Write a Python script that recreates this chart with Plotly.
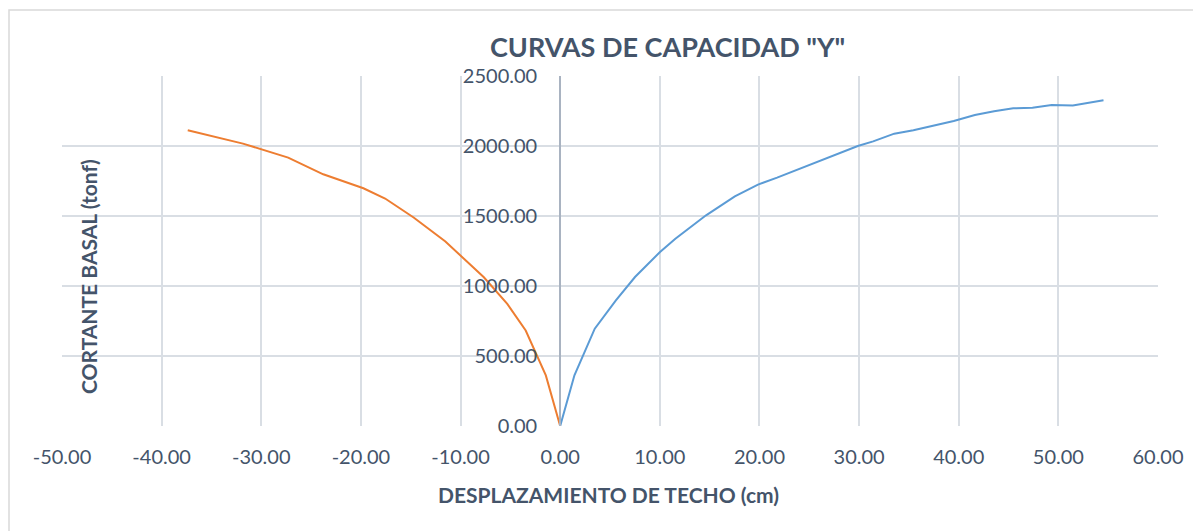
import plotly.graph_objects as go

# Data
pos_x = [0.0, 1.43, 3.47, 5.59, 7.51, 10.02, 11.56, 14.64, 17.53, 19.85, 21.77, 24.47,
         27.17, 29.87, 31.41, 33.53, 35.45, 37.57, 39.5, 41.62, 43.55, 45.47, 47.4,
         49.33, 51.45, 54.53]
pos_y = [0, 362, 695, 898, 1064, 1243, 1338, 1505, 1640, 1724, 1774, 1850,
         1926, 2000, 2033, 2088, 2112, 2148, 2179, 2221, 2248, 2269, 2274,
         2293, 2290, 2326]

neg_x = [0.0, -1.44, -3.46, -5.31, -7.66, -11.52, -14.71, -17.57, -19.75, -23.78,
         -27.3, -31.84, -37.38]
neg_y = [0, 361, 682, 872, 1062, 1318, 1489, 1625, 1698, 1798, 1917, 2017, 2112]

x_ticks = [-50, -40, -30, -20, -10, 0, 10, 20, 30, 40, 50, 60]
x_tick_labels = ["%.2f" % v for v in x_ticks]
y_ticks = [0, 500, 1000, 1500, 2000, 2500]
y_tick_labels = ["%.2f" % v for v in y_ticks]

title_text = 'CURVAS DE CAPACIDAD "Y"'
x_title = "DESPLAZAMIENTO DE TECHO (cm)"
y_title = "CORTANTE BASAL (tonf)"

TXT = "#44546A"
GRID = "#D9DEE4"
FONT = "Lato"

# page has an 8px body margin; figure coordinates = page coordinates - 8
OFF = 8
L, R, T, B = 62 - OFF, 1158 - OFF, 76 - OFF, 426 - OFF
W, H = 1193, 523
PW, PH = R - L, B - T


def px(xp):
    return (xp - OFF - L) / PW


def py(yp):
    return (B - (yp - OFF)) / PH


fig = go.Figure()
fig.add_trace(go.Scatter(x=pos_x, y=pos_y, mode="lines",
                         line=dict(color="#5B9BD5", width=2), showlegend=False))
fig.add_trace(go.Scatter(x=neg_x, y=neg_y, mode="lines",
                         line=dict(color="#ED7D31", width=2), showlegend=False))

fig.update_layout(
    width=W, height=H,
    margin=dict(l=L, r=W - R, t=T, b=H - B),
    paper_bgcolor="white", plot_bgcolor="white",
    font=dict(family=FONT, color=TXT, size=20),
    xaxis=dict(range=[-50, 60], tickvals=x_ticks, ticktext=x_tick_labels,
               showgrid=True, gridcolor=GRID, gridwidth=1.5,
               zeroline=False, showline=False, ticks="",
               ticklabelstandoff=17,
               tickfont=dict(family=FONT, size=20, color=TXT)),
    yaxis=dict(range=[0, 2500], tickvals=y_ticks, ticktext=y_tick_labels,
               showgrid=True, gridcolor=GRID, gridwidth=1.5,
               zeroline=False, anchor="free", position=50/110,
               showline=True, linecolor="#A9B3C1", linewidth=2,
               ticks="", ticklabelstandoff=18,
               tickfont=dict(family=FONT, size=20, color=TXT)),
    annotations=[
        dict(text="<b>" + title_text + "</b>", xref="paper", yref="paper",
             x=px(667), y=py(47), xanchor="center", yanchor="middle",
             showarrow=False, font=dict(family=FONT, size=27, color=TXT)),
        dict(text="<b>" + x_title + "</b>", xref="paper", yref="paper",
             x=px(608), y=py(494), xanchor="center", yanchor="middle",
             showarrow=False, font=dict(family=FONT, size=21, color=TXT)),
        dict(text="<b>" + y_title + "</b>", xref="paper", yref="paper",
             x=px(88), y=py(277), xanchor="center", yanchor="middle",
             textangle=-90, showarrow=False, font=dict(family=FONT, size=21, color=TXT)),
    ],
    shapes=[dict(type="rect", xref="paper", yref="paper",
                 x0=px(9), x1=px(1215),
                 y0=py(545), y1=py(10),
                 line=dict(color="#D9D9D9", width=1.5), fillcolor="rgba(0,0,0,0)",
                 layer="below")],
)

fig.write_html("out.html")
